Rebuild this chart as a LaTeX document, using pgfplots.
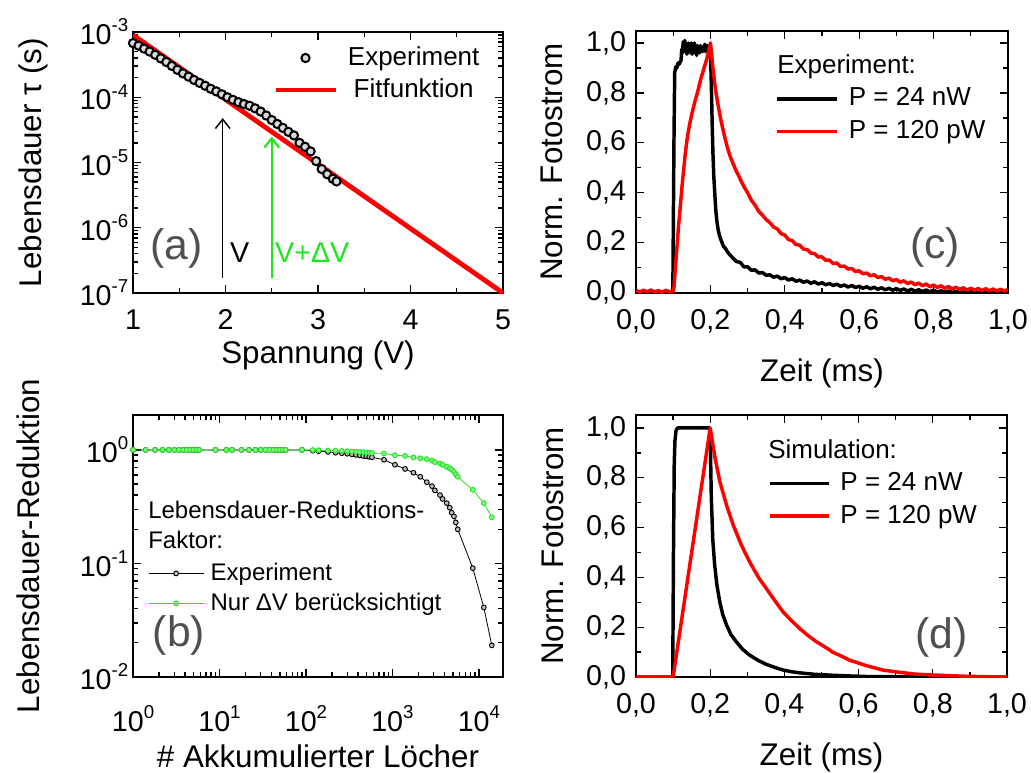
\documentclass[border=0pt]{standalone}
\usepackage{fontspec}
\setmainfont{Liberation Sans}
\usepackage{pgfplots}
\usetikzlibrary{arrows.meta}
\pgfplotsset{compat=1.18}
\definecolor{myred}{RGB}{255,0,0}
\definecolor{mygreen}{RGB}{30,230,30}
\definecolor{lblgray}{RGB}{80,80,80}
\newcommand{\tickfont}{\fontsize{21.5}{24}\selectfont}
\newcommand{\labfont}{\fontsize{23.5}{26}\selectfont}
\newcommand{\legfont}{\fontsize{19.5}{23}\selectfont}
\newcommand{\legfontb}{\fontsize{18}{21}\selectfont}
\newcommand{\panelfont}{\fontsize{32}{36}\selectfont}
\newcommand{\sups}[1]{\raisebox{0.45em}{\fontsize{14}{14}\selectfont #1}}
\pgfplotsset{
  every axis/.append style={
    scale only axis,
    axis line style={line width=1.3pt},
    every tick/.style={black, line width=1.0pt},
    major tick length=6pt, minor tick length=3.5pt,
    tick label style={font=\tickfont},
    label style={font=\labfont},
    clip=true,
  },
  legline/.style={legend image code/.code={\draw[##1] (0pt,0pt) -- (#1,0pt);}},
  legmarkA/.style={legend image code/.code={\draw[mark repeat=2,mark phase=2,##1] plot coordinates {(0pt,0pt) (22.5pt,0pt) (45pt,0pt)};}},
  legmarkB/.style={legend image code/.code={\draw[mark repeat=2,mark phase=2,##1] plot coordinates {(0pt,0pt) (20.6pt,0pt) (41.2pt,0pt)};}},
}
\begin{document}
\begin{tikzpicture}
\useasboundingbox (0,0) rectangle (773.25pt,-579.75pt);

% ---------------- (a) ----------------
\begin{axis}[
  at={(99.75pt,-219.75pt)}, anchor=south west,
  width=277.5pt, height=195.75pt,
  ymode=log, xmin=1, xmax=5, ymin=1e-7, ymax=1e-3,
  xtick={1,2,3,4,5}, xticklabels={1,2,3,4,5},
  minor xtick={1.5,2.5,3.5,4.5},
  ytick={1e-7,1e-6,1e-5,1e-4,1e-3},
  yticklabels={10\sups{-7},10\sups{-6},10\sups{-5},10\sups{-4},10\sups{-3}},
  minor ytick={2e-7,3e-7,4e-7,5e-7,6e-7,7e-7,8e-7,9e-7,2e-6,3e-6,4e-6,5e-6,6e-6,7e-6,8e-6,9e-6,2e-5,3e-5,4e-5,5e-5,6e-5,7e-5,8e-5,9e-5,2e-4,3e-4,4e-4,5e-4,6e-4,7e-4,8e-4,9e-4},
  xticklabel style={yshift=-9pt},
  xlabel={Spannung (V)}, ylabel={Lebensdauer τ (s)},
  xlabel style={at={(axis description cs:0.5,-0.24)}, anchor=center},
  ylabel style={at={(axis description cs:-0.27,0.5)}, anchor=center},
  legend style={draw=none, fill=none, at={(rel axis cs:0.378,0.839)}, anchor=west,
    font=\legfont, inner sep=0pt, row sep=4.5pt, column sep=7.5pt,
    nodes={inner sep=0pt, text height=15pt, text depth=4.5pt}},
]
\addplot[only marks, mark=*, mark size=3.1pt, mark options={draw=black, line width=1.5pt, fill=white!70!gray}, legmarkA]
coordinates {
(1.00,6.76e-4)(1.06,6.17e-4)(1.12,5.56e-4)(1.18,5.01e-4)(1.24,4.47e-4)(1.30,3.94e-4)
(1.36,3.47e-4)(1.42,3.02e-4)(1.48,2.63e-4)(1.54,2.32e-4)(1.60,2.07e-4)(1.66,1.84e-4)
(1.72,1.66e-4)(1.78,1.50e-4)(1.84,1.35e-4)(1.90,1.23e-4)(1.96,1.11e-4)(2.02,1.00e-4)
(2.08,9.12e-5)(2.14,8.41e-5)(2.20,7.85e-5)(2.26,7.41e-5)(2.32,6.76e-5)(2.38,6.03e-5)
(2.44,5.25e-5)(2.50,4.47e-5)(2.56,3.89e-5)(2.62,3.39e-5)(2.68,2.95e-5)(2.74,2.60e-5)
(2.80,2.00e-5)(2.86,1.74e-5)(2.92,1.48e-5)(2.98,1.05e-5)(3.04,7.94e-6)(3.10,6.61e-6)
(3.16,5.62e-6)(3.20,5.13e-6)};
\addlegendentry{Experiment}
\addplot[myred, line width=3.6pt, legline=45pt]
coordinates {(1,9.0e-4)(5,1.0e-7)};
\addlegendentry{Fitfunktion}
\draw[-{Straight Barb[length=7pt,width=11pt,line width=1.1pt]}, line width=1.1pt, black] (axis cs:1.97,1.7e-7) -- (axis cs:1.97,4.8e-5);
\draw[-{Straight Barb[length=7pt,width=11pt,line width=1.6pt]}, line width=1.6pt, mygreen] (axis cs:2.50,1.7e-7) -- (axis cs:2.50,2.5e-5);
\node[font=\tickfont, anchor=west] at (axis cs:2.0,4.1e-7) {V};
\node[font=\tickfont, anchor=west, text=mygreen, inner sep=1pt] at (axis cs:2.52,4.1e-7) {V+ΔV};
\node[font=\panelfont, text=lblgray] at (axis cs:1.47,4.9e-7) {(a)};
\end{axis}

% ---------------- (b) ----------------
\begin{axis}[
  at={(99.75pt,-507.75pt)}, anchor=south west,
  width=277.5pt, height=196.5pt,
  xmode=log, ymode=log, xmin=1, xmax=1.9e4, ymin=1e-2, ymax=2.03,
  xtick={1,10,100,1000,10000},
  xticklabels={10\sups{0},10\sups{1},10\sups{2},10\sups{3},10\sups{4}},
  minor xtick={2,3,4,5,6,7,8,9,20,30,40,50,60,70,80,90,200,300,400,500,600,700,800,900,2000,3000,4000,5000,6000,7000,8000,9000},
  ytick={1e-2,1e-1,1},
  yticklabels={10\sups{-2},10\sups{-1},10\sups{0}},
  minor ytick={2e-2,3e-2,4e-2,5e-2,6e-2,7e-2,8e-2,9e-2,0.2,0.3,0.4,0.5,0.6,0.7,0.8,0.9,2},
  xticklabel style={yshift=-18pt},
  xlabel={\# Akkumulierter Löcher}, ylabel={Lebensdauer-Reduktion},
  xlabel style={at={(axis description cs:0.5,-0.3435)}, anchor=base, inner sep=0pt},
  ylabel style={at={(axis description cs:-0.284,0.5)}, anchor=center},
  legend style={draw=none, fill=none, at={(rel axis cs:0.0405,0.338)}, anchor=west,
    font=\legfontb, inner sep=0pt, row sep=4.5pt, column sep=5pt,
    nodes={inner sep=0pt, text height=14pt, text depth=4pt}},
  legend cell align=left,
]
\addplot[black, line width=0.6pt, mark=*, mark size=1.8pt, mark options={fill=gray!50, line width=0.7pt}, legmarkB]
coordinates {
(1,1)(1.4,1)(1.8,1)(2.2,1)(2.6,1)(3.0,1)(3.4,1)(3.8,1)(4.2,1)(4.6,1)(5.0,1)(5.4,1)(5.8,1)
(9,1)(12,1)(14,1)(18,1)(22,1)(26,1)(30,1)(34,1)(38,1)(42,1)(46,1)(50,1)(54,1)(58,1)
(90,1)(120,0.985)(140,0.975)(180,0.96)(220,0.945)(260,0.935)(300,0.925)(340,0.915)(380,0.905)
(420,0.895)(460,0.885)(500,0.878)(540,0.87)(580,0.862)
(800,0.82)(1070,0.74)(1400,0.68)(1750,0.63)(2100,0.58)(2500,0.52)(2870,0.48)(3100,0.44)
(3550,0.40)(3800,0.37)(4250,0.34)(4600,0.31)(4850,0.28)(5150,0.26)(5400,0.23)(5700,0.20)
(8500,0.091)(11400,0.041)(14100,0.019)};
\addlegendentry{Experiment}
\addplot[mygreen, line width=0.6pt, mark=*, mark size=1.8pt, mark options={fill=mygreen!50!white, draw=mygreen, line width=0.7pt}, legmarkB]
coordinates {
(1,1)(1.4,1)(1.8,1)(2.2,1)(2.6,1)(3.0,1)(3.4,1)(3.8,1)(4.2,1)(4.6,1)(5.0,1)(5.4,1)(5.8,1)
(9,1)(12,1)(14,1)(18,1)(22,1)(26,1)(30,1)(34,1)(38,1)(42,1)(46,1)(50,1)(54,1)(58,1)
(90,1)(120,0.998)(140,0.995)(180,0.99)(220,0.985)(260,0.98)(300,0.975)(340,0.97)(380,0.965)
(420,0.96)(460,0.955)(500,0.95)(540,0.945)(580,0.94)
(800,0.93)(1070,0.90)(1400,0.885)(1750,0.86)(2100,0.845)(2500,0.83)(2870,0.805)(3100,0.78)
(3550,0.76)(3800,0.74)(4250,0.71)(4600,0.69)(4850,0.67)(5150,0.64)(5400,0.61)(5700,0.58)
(8500,0.445)(11400,0.34)(14100,0.255)};
\addlegendentry{Nur ΔV berücksichtigt}
\node[font=\legfontb, anchor=base west, inner sep=0pt] at (rel axis cs:0.0405,0.606) {Lebensdauer-Reduktions-};
\node[font=\legfontb, anchor=base west, inner sep=0pt] at (rel axis cs:0.0405,0.491) {Faktor:};
\node[font=\panelfont, text=lblgray] at (axis cs:3.4,0.0234) {(b)};
\end{axis}

% ---------------- (c) ----------------
\begin{axis}[
  at={(477pt,-219.75pt)}, anchor=south west,
  width=279pt, height=196.5pt,
  xmin=0, xmax=1, ymin=-0.002, ymax=1.048,
  xtick={0,0.2,0.4,0.6,0.8,1.0},
  xticklabels={{0,0},{0,2},{0,4},{0,6},{0,8},{1,0}},
  minor xtick={0.1,0.3,0.5,0.7,0.9},
  ytick={0,0.2,0.4,0.6,0.8,1.0},
  yticklabels={{0,0},{0,2},{0,4},{0,6},{0,8},{1,0}},
  minor ytick={0.1,0.3,0.5,0.7,0.9},
  xticklabel style={yshift=-9pt},
  yticklabel style={xshift=-4pt},
  xlabel={Zeit (ms)}, ylabel={Norm. Fotostrom},
  xlabel style={at={(axis description cs:0.5,-0.305)}, anchor=center},
  ylabel style={at={(axis description cs:-0.226,0.5)}, anchor=center},
  legend style={draw=none, fill=none, at={(rel axis cs:0.374,0.679)}, anchor=west,
    font=\legfont, inner sep=0pt, row sep=5pt, column sep=7.5pt,
    nodes={inner sep=0pt, text height=15pt, text depth=4.5pt}},
  legend cell align=left,
]
\addplot[black, line width=2.6pt, line join=round, legline=45pt]
coordinates {
(0.000,0.004)(0.010,-0.003)(0.020,0.005)(0.030,0.000)(0.040,-0.004)(0.050,0.003)(0.060,-0.002)
(0.070,0.004)(0.080,-0.003)(0.090,0.002)(0.099,0.000)(0.102,0.60)(0.104,0.88)(0.107,0.905)
(0.110,0.90)(0.113,0.92)(0.116,0.915)(0.119,0.925)(0.121,0.93)(0.123,0.975)(0.125,0.96)
(0.127,1.005)(0.129,0.965)(0.131,1.01)(0.133,0.975)(0.135,0.995)(0.137,0.955)(0.139,0.99)
(0.141,1.0)(0.143,0.965)(0.145,0.985)(0.147,0.96)(0.149,1.0)(0.151,0.955)(0.153,0.99)
(0.155,0.965)(0.157,1.0)(0.159,0.96)(0.161,0.975)(0.163,0.95)(0.165,0.99)(0.167,0.97)
(0.169,0.985)(0.171,0.96)(0.173,0.99)(0.175,0.97)(0.177,0.985)(0.179,0.965)(0.181,0.98)
(0.183,0.97)(0.185,0.995)(0.187,0.965)(0.189,0.98)(0.191,0.97)(0.193,0.99)(0.195,0.975)
(0.197,0.965)(0.199,0.96)(0.201,0.92)(0.203,0.80)(0.205,0.66)(0.207,0.55)(0.209,0.47)
(0.212,0.39)(0.215,0.32)(0.218,0.28)(0.221,0.25)(0.225,0.225)(0.230,0.205)(0.235,0.185)
(0.240,0.178)(0.245,0.165)(0.250,0.155)
(0.26,0.139)(0.27,0.124)(0.28,0.121)(0.29,0.103)(0.30,0.103)(0.31,0.089)(0.32,0.091)
(0.33,0.078)(0.34,0.080)(0.35,0.069)(0.36,0.071)(0.37,0.061)(0.38,0.066)(0.39,0.055)
(0.40,0.060)(0.41,0.050)(0.42,0.055)(0.43,0.045)(0.44,0.050)(0.45,0.041)(0.46,0.046)
(0.47,0.037)(0.48,0.043)(0.49,0.034)(0.50,0.039)(0.51,0.031)(0.52,0.036)(0.53,0.028)
(0.54,0.033)(0.55,0.025)(0.56,0.030)(0.57,0.022)(0.58,0.028)(0.59,0.020)(0.60,0.025)
(0.61,0.017)(0.62,0.023)(0.63,0.015)(0.64,0.021)(0.65,0.013)(0.66,0.019)(0.67,0.011)
(0.68,0.017)(0.69,0.009)(0.70,0.016)(0.71,0.008)(0.72,0.014)(0.73,0.006)(0.74,0.013)
(0.75,0.005)(0.76,0.011)(0.77,0.004)(0.78,0.010)(0.79,0.003)(0.80,0.009)(0.81,0.002)
(0.82,0.007)(0.83,0.001)(0.84,0.006)(0.85,0.000)(0.86,0.004)(0.88,0.001)(0.90,0.003)
(0.92,-0.001)(0.94,0.002)(0.96,-0.001)(0.98,0.001)(1.00,0.000)};
\addlegendentry{P = 24 nW}
\addplot[myred, line width=2.6pt, line join=round, legline=45pt]
coordinates {
(0.000,0.008)(0.010,0.002)(0.020,0.009)(0.030,0.003)(0.040,0.010)(0.050,0.002)(0.060,0.008)
(0.070,0.001)(0.080,0.009)(0.090,0.003)(0.100,0.004)(0.102,0.02)(0.105,0.08)(0.108,0.14)
(0.111,0.20)(0.114,0.26)(0.117,0.31)(0.120,0.36)(0.124,0.43)(0.128,0.49)(0.132,0.55)
(0.136,0.60)(0.140,0.64)(0.145,0.68)(0.150,0.715)(0.155,0.745)(0.160,0.775)(0.165,0.80)
(0.170,0.83)(0.175,0.86)(0.180,0.885)(0.185,0.91)(0.190,0.935)(0.195,0.965)(0.200,1.0)
(0.203,0.96)(0.206,0.91)(0.210,0.86)(0.214,0.81)(0.218,0.775)(0.222,0.74)(0.227,0.70)
(0.232,0.665)(0.238,0.625)(0.245,0.585)(0.252,0.55)(0.260,0.52)
(0.27,0.485)(0.28,0.455)(0.29,0.425)(0.30,0.40)(0.31,0.37)(0.32,0.35)(0.33,0.325)
(0.34,0.31)(0.35,0.292)(0.36,0.28)(0.37,0.262)(0.38,0.255)(0.39,0.236)(0.40,0.230)
(0.41,0.212)(0.42,0.208)(0.43,0.192)(0.44,0.190)(0.45,0.174)(0.46,0.172)(0.47,0.158)
(0.48,0.156)(0.49,0.142)(0.50,0.143)(0.51,0.129)(0.52,0.130)(0.53,0.116)(0.54,0.118)
(0.55,0.104)(0.56,0.106)(0.57,0.094)(0.58,0.096)(0.59,0.084)(0.60,0.087)(0.61,0.075)
(0.62,0.078)(0.63,0.067)(0.64,0.071)(0.65,0.060)(0.66,0.064)(0.67,0.053)(0.68,0.058)
(0.69,0.047)(0.70,0.052)(0.71,0.041)(0.72,0.047)(0.73,0.036)(0.74,0.042)(0.75,0.031)
(0.76,0.038)(0.77,0.027)(0.78,0.034)(0.79,0.023)(0.80,0.030)(0.81,0.020)(0.82,0.027)
(0.83,0.017)(0.84,0.024)(0.85,0.014)(0.86,0.021)(0.87,0.012)(0.88,0.019)(0.89,0.010)
(0.90,0.017)(0.91,0.009)(0.92,0.016)(0.93,0.008)(0.94,0.015)(0.95,0.007)(0.96,0.014)
(0.97,0.006)(0.98,0.013)(0.99,0.006)(1.00,0.012)};
\addlegendentry{P = 120 pW}
\node[font=\legfont, anchor=base west, inner sep=0pt] at (rel axis cs:0.379,0.8385) {Experiment:};
\node[font=\panelfont, text=lblgray] at (axis cs:0.804,0.18) {(c)};
\end{axis}

% ---------------- (d) ----------------
\begin{axis}[
  at={(477pt,-507.75pt)}, anchor=south west,
  width=278.25pt, height=196.5pt,
  xmin=0, xmax=1, ymin=0, ymax=1.052,
  xtick={0,0.2,0.4,0.6,0.8,1.0},
  xticklabels={{0,0},{0,2},{0,4},{0,6},{0,8},{1,0}},
  minor xtick={0.1,0.3,0.5,0.7,0.9},
  ytick={0,0.2,0.4,0.6,0.8,1.0},
  yticklabels={{0,0},{0,2},{0,4},{0,6},{0,8},{1,0}},
  minor ytick={0.1,0.3,0.5,0.7,0.9},
  xticklabel style={yshift=-9pt},
  yticklabel style={xshift=-4pt},
  xlabel={Zeit (ms)}, ylabel={Norm. Fotostrom},
  xlabel style={at={(axis description cs:0.5,-0.336)}, anchor=base, inner sep=0pt},
  ylabel style={at={(axis description cs:-0.224,0.5)}, anchor=center},
  legend style={draw=none, fill=none, at={(rel axis cs:0.356,0.676)}, anchor=west,
    font=\legfont, inner sep=0pt, row sep=5pt, column sep=7.5pt,
    nodes={inner sep=0pt, text height=15pt, text depth=4.5pt}},
  legend cell align=left,
]
\addplot[black, line width=2.6pt, line join=round, legline=44pt]
coordinates {
(0,0)(0.099,0)(0.101,0.5)(0.103,0.85)(0.105,0.95)(0.108,0.99)(0.112,1.0)(0.198,1.0)
(0.200,0.97)(0.203,0.72)(0.207,0.55)(0.212,0.45)(0.218,0.37)(0.226,0.30)(0.234,0.25)
(0.244,0.209)(0.256,0.17)(0.27,0.142)(0.287,0.112)(0.306,0.088)(0.33,0.066)(0.351,0.051)
(0.375,0.038)(0.396,0.028)(0.42,0.021)(0.44,0.017)(0.48,0.011)(0.53,0.007)(0.58,0.004)
(0.62,0.002)(0.7,0.001)(0.8,0)(1.0,0)};
\addlegendentry{P = 24 nW}
\addplot[myred, line width=2.6pt, line join=round, legline=44pt]
coordinates {
(0,0)(0.1,0)(0.2,1.0)(0.213,0.88)(0.226,0.784)(0.244,0.69)(0.262,0.61)(0.284,0.53)
(0.306,0.463)(0.33,0.40)(0.351,0.356)(0.375,0.305)(0.396,0.262)(0.42,0.225)(0.441,0.195)
(0.465,0.165)(0.486,0.142)(0.51,0.12)(0.53,0.10)(0.555,0.083)(0.575,0.068)(0.6,0.056)
(0.62,0.046)(0.645,0.036)(0.665,0.028)(0.69,0.023)(0.71,0.019)(0.75,0.012)(0.8,0.008)
(0.85,0.005)(0.89,0.003)(0.95,0.001)(1.0,0)};
\addlegendentry{P = 120 pW}
\node[font=\legfont, anchor=base west, inner sep=0pt] at (rel axis cs:0.356,0.835) {Simulation:};
\node[font=\panelfont, text=lblgray] at (axis cs:0.823,0.16) {(d)};
\end{axis}
\end{tikzpicture}
\end{document}
